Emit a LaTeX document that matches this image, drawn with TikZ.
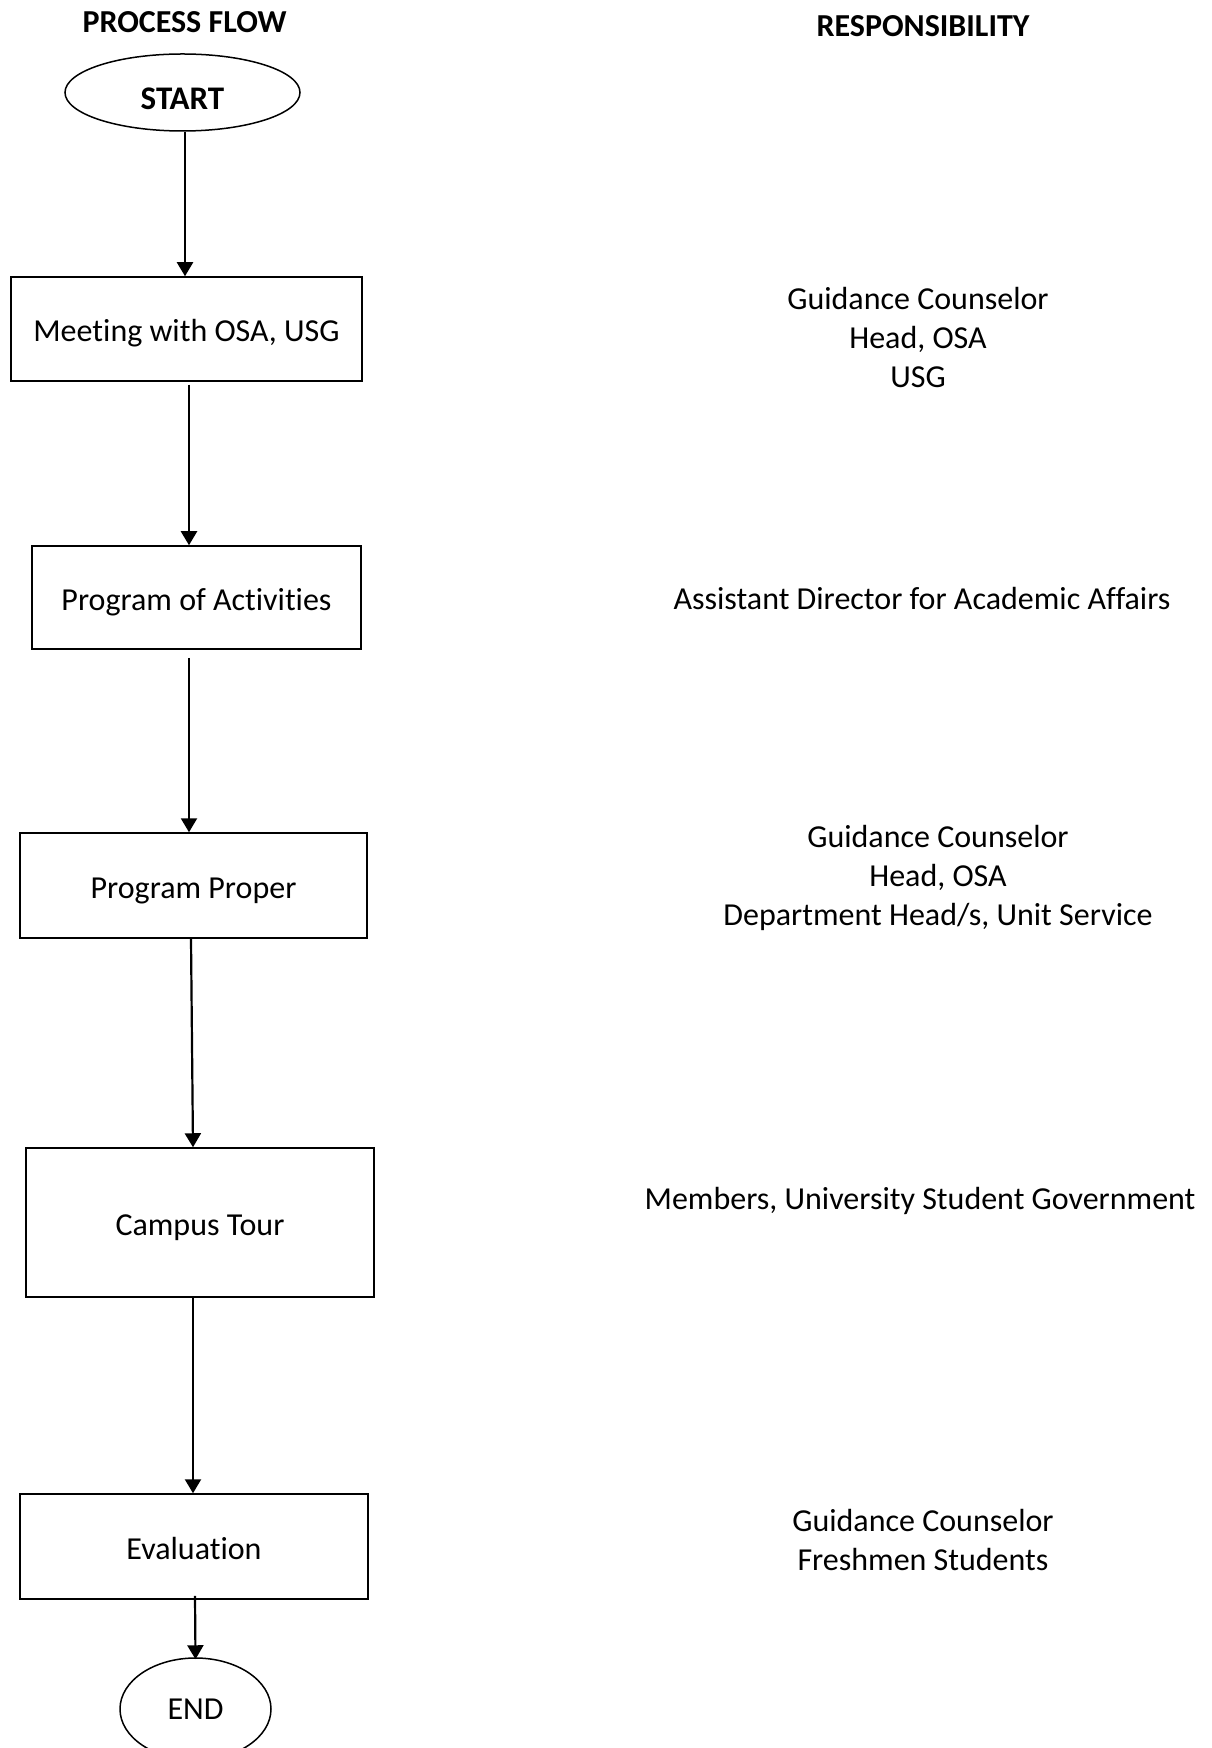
\documentclass[tikz,border=0pt]{standalone}
\usepackage{fontspec}
\setmainfont{Carlito}[Ligatures={NoCommon,NoContextual,NoRequired}]
\usetikzlibrary{arrows.meta,shapes.geometric}

% keeps "t" and "i" apart (the font otherwise joins them)
\newcommand{\tisep}{t\kern0pt i}

\tikzset{
  every node/.style={font=\fontsize{16pt}{19.5pt}\selectfont, inner sep=0pt},
  stepbox/.style={draw, line width=0.75pt, rectangle, align=center, text height=14pt, text depth=1pt},
  terminal/.style={draw, line width=0.75pt, ellipse},
  flowarrow/.style={line width=1.1pt, -{Triangle[width=8pt,length=7pt]}},
  header/.style={font=\fontsize{16pt}{19.5pt}\selectfont\bfseries},
  resp/.style={align=center}
}

\begin{document}
\begin{tikzpicture}[x=0.5pt,y=-0.5pt]
  \useasboundingbox (0,0) rectangle (1211,1748);

  % column headings
  \node[header] (hflow) at (184.5,22) {PROCESS FLOW};
  \node[header] (hresp) at (923,26) {RESPONSIBILITY};

  % process flow
  \node[terminal, minimum width=117.5pt, minimum height=38.5pt, font=\fontsize{16.5pt}{19.5pt}\selectfont\bfseries] (start) at (182.5,92.5) {\raisebox{-3pt}[\height][\depth]{START}};
  \node[stepbox, minimum width=175.5pt, minimum height=52pt] (meet) at (186.5,329) {Mee\tisep ng with OSA, USG};
  \node[stepbox, minimum width=164.5pt, minimum height=51.5pt] (poa) at (196.5,597.5) {Program of Ac\tisep vi\tisep es};
  \node[stepbox, minimum width=173.5pt, minimum height=52.5pt] (proper) at (193.5,885.5) {Program Proper};
  \node[stepbox, minimum width=174pt, minimum height=74.5pt] (tour) at (200,1222.5) {Campus Tour};
  \node[stepbox, minimum width=174pt, minimum height=52.5pt] (eval) at (194,1546.5) {Evalua\tisep on};
  \node[terminal, minimum width=75.5pt, minimum height=51pt] (finish) at (195.5,1709) {END};

  % connectors
  \draw[flowarrow] ([xshift=1.25pt]start.south) -- ([xshift=-0.75pt]meet.north);
  \draw[flowarrow] ([xshift=1.25pt,yshift=-1.5pt]meet.south) -- ([xshift=-3.75pt]poa.north);
  \draw[flowarrow] ([xshift=-3.75pt,yshift=-4pt]poa.south) -- ([xshift=-2.25pt]proper.north);
  \draw[flowarrow] ([xshift=-1.25pt]proper.south) -- ([xshift=-3.5pt]tour.north);
  \draw[flowarrow] ([xshift=-3.5pt]tour.south) -- ([xshift=-0.5pt]eval.north);
  \draw[flowarrow] ([xshift=0.5pt,yshift=2pt]eval.south) -- ([yshift=-1pt]finish.north);

  % responsibilities
  \node[resp] (r1) at (918,338) {Guidance Counselor\\Head, OSA\\USG};
  \node[resp] (r2) at (922,599) {Assistant Director for Academic Affairs};
  \node[resp] (r3) at (938,877.5) {Guidance Counselor\\Head, OSA\\Department Head/s, Unit Service};
  \node[resp] (r4) at (920,1201) {Members, University Student Government};
  \node[resp] (r5) at (923,1539.5) {Guidance Counselor\\Freshmen Students};
\end{tikzpicture}
\end{document}
